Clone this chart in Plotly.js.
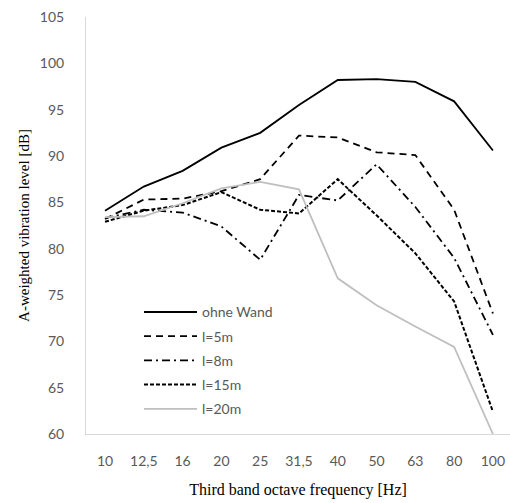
<!DOCTYPE html>
<html>
<head>
<meta charset="utf-8">
<script src="https://cdn.plot.ly/plotly-3.0.1.min.js"></script>
<style>html,body{margin:0;padding:0;background:#fff;}#chart{width:510px;height:503px;}</style>
</head>
<body>
<div id="chart"></div>
<script>
const categories = ["10","12,5","16","20","25","31,5","40","50","63","80","100"];
const ohneWand = [84.1, 86.7, 88.4, 90.9, 92.5, 95.5, 98.2, 98.3, 98.0, 95.9, 90.6];
const l5m      = [83.2, 85.3, 85.4, 86.2, 87.5, 92.2, 92.0, 90.4, 90.1, 84.2, 73.0];
const l8m      = [83.3, 84.2, 83.9, 82.4, 78.8, 85.8, 85.2, 89.1, 84.5, 79.0, 70.7];
const l15m     = [82.9, 84.1, 84.7, 86.1, 84.2, 83.8, 87.5, 83.6, 79.5, 74.3, 62.4];
const l20m     = [83.4, 83.5, 84.9, 86.5, 87.2, 86.4, 76.8, 73.9, 71.6, 69.4, 60.0];
const seriesNames = ["ohne Wand", "l=5m", "l=8m", "l=15m", "l=20m"];

const styles = [
  {color: "#000000", width: 1.8, dash: "solid"},
  {color: "#000000", width: 1.8, dash: "7px,5px"},
  {color: "#000000", width: 1.8, dash: "8px,4px,2px,4px"},
  {color: "#000000", width: 2, dash: "4px,2px"},
  {color: "#bfbfbf", width: 1.8, dash: "solid"}
];
const allData = [ohneWand, l5m, l8m, l15m, l20m];
const traces = allData.map((vals, i) => ({
  x: categories, y: vals, type: "scatter", mode: "lines",
  name: seriesNames[i], legendgroup: "g" + i,
  line: {color: styles[i].color, width: styles[i].width, dash: styles[i].dash}
}));

const layout = {
  width: 510, height: 503,
  margin: {l: 86, r: 0, t: 17, b: 69},
  paper_bgcolor: "#ffffff", plot_bgcolor: "#ffffff",
  showlegend: true,
  legend: {
    x: 0.125, y: 0.33, xanchor: "left", yanchor: "top",
    bgcolor: "rgba(255,255,255,0)",
    itemwidth: 53,
    font: {family: "Lato, 'Open Sans', sans-serif", size: 14, color: "#595959"},
    traceorder: "grouped", tracegroupgap: 3
  },
  xaxis: {
    type: "category", range: [-0.49, 10.44],
    showgrid: false, zeroline: false,
    showline: true, linecolor: "#d9d9d9", linewidth: 1,
    ticks: "", ticklabelstandoff: 14,
    tickfont: {family: "Lato, 'Open Sans', sans-serif", size: 14, color: "#595959"},
    title: {text: "Third band octave frequency [Hz]", standoff: 16,
            font: {family: "'Liberation Serif', 'Times New Roman', serif", size: 16, color: "#000000"}}
  },
  yaxis: {
    range: [60, 105], dtick: 5, tick0: 60,
    showgrid: false, zeroline: false,
    showline: true, linecolor: "#d9d9d9", linewidth: 1,
    ticks: "", ticklabelstandoff: 18,
    tickfont: {family: "Lato, 'Open Sans', sans-serif", size: 14, color: "#595959"},
    title: {text: "A-weighted vibration level [dB]", standoff: 6,
            font: {family: "'Liberation Serif', 'Times New Roman', serif", size: 15, color: "#000000"}}
  }
};

Plotly.newPlot("chart", traces, layout, {displayModeBar: false, staticPlot: true});
</script>
</body>
</html>
